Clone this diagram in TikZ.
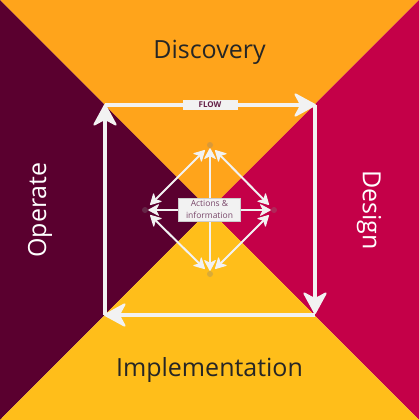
\documentclass[tikz,border=0pt]{standalone}
\usepackage{fontspec}
\setmainfont{Open Sans}
\usetikzlibrary{arrows.meta}

\definecolor{topband}{RGB}{255,164,27}
\definecolor{leftband}{RGB}{90,0,47}
\definecolor{rightband}{RGB}{196,0,72}
\definecolor{bottomband}{RGB}{255,190,26}
\definecolor{flowwhite}{RGB}{242,242,242}
\definecolor{labelink}{RGB}{38,38,38}
\definecolor{tagink}{RGB}{100,30,70}
\definecolor{boxink}{RGB}{120,70,105}

\tikzset{
  bigflow/.style={draw=flowwhite, line width=4.6pt,
    -{Stealth[length=24pt, width=26pt, inset=7pt, round, line width=2pt]}},
  linkarrow/.style={draw=flowwhite, line width=2pt,
    {Stealth[length=12pt, width=13pt, inset=3.5pt, round, line width=1pt]}-{Stealth[length=12pt, width=13pt, inset=3.5pt, round, line width=1pt]}},
  hub/.style={circle, inner sep=0pt, minimum size=6pt, fill=gray, fill opacity=0.3},
  stagelabel/.style={font=\fontsize{25}{30}\selectfont},
  tagbox/.style={fill=flowwhite, inner sep=0pt},
}

\begin{document}
\begin{tikzpicture}[x=1pt, y=-1pt]
  \useasboundingbox (0,0) rectangle (419,420);

  % four coloured quadrants meeting at the centre
  \fill[topband]    (0,0) -- (419,0) -- (209.5,210) -- cycle;
  \fill[leftband]   (0,0) -- (209.5,210) -- (0,420) -- cycle;
  \fill[rightband]  (419,0) -- (419,420) -- (209.5,210) -- cycle;
  \fill[bottomband] (0,420) -- (209.5,210) -- (419,420) -- cycle;

  % stage names
  \node[stagelabel, text=labelink] (disc) at (209.5,52) {Discovery};
  \node[stagelabel, text=labelink] (impl) at (209.5,370) {Implementation};
  \node[stagelabel, text=white, rotate=-90] (des) at (369,210) {Design};
  \node[stagelabel, text=white, rotate=90] (oper) at (40,210) {Operate};

  % outer flow loop
  \coordinate (tl) at (105,105);
  \coordinate (tr) at (315,105);
  \coordinate (br) at (315,315);
  \coordinate (bl) at (105,315);
  \coordinate (trtip) at (316,105);
  \coordinate (brtip) at (315,314);
  \coordinate (bltip) at (104,315);
  \coordinate (tltip) at (105,104);
  \draw[bigflow] (tl) -- (trtip);
  \draw[bigflow] (tr) -- (brtip);
  \draw[bigflow] (br) -- (bltip);
  \draw[bigflow] (bl) -- (tltip);
  \node[tagbox, minimum width=55pt, minimum height=9.5pt,
        font=\bfseries\fontsize{8}{9}\selectfont, text=tagink] (flow) at (210,105) {FLOW};

  % central exchange diamond
  \node[hub] (n) at (210,145) {};
  \node[hub] (s) at (210,274) {};
  \node[hub] (w) at (145,210) {};
  \node[hub] (e) at (274,210) {};
  \draw[linkarrow] (n) -- (s);
  \draw[linkarrow] (w) -- (e);
  \draw[linkarrow, shorten <=4pt, shorten >=4pt] (n) -- (w);
  \draw[linkarrow, shorten <=4pt, shorten >=4pt] (n) -- (e);
  \draw[linkarrow, shorten <=4pt, shorten >=4pt] (s) -- (w);
  \draw[linkarrow, shorten <=4pt, shorten >=4pt] (s) -- (e);
  \node[tagbox, draw=gray!40, line width=0.4pt, minimum width=62pt, minimum height=23pt,
        align=center, text=boxink, font=\fontsize{8.5}{11.5}\selectfont] (info) at (209.5,209.5)
        {Actions \&\\information};
\end{tikzpicture}
\end{document}
